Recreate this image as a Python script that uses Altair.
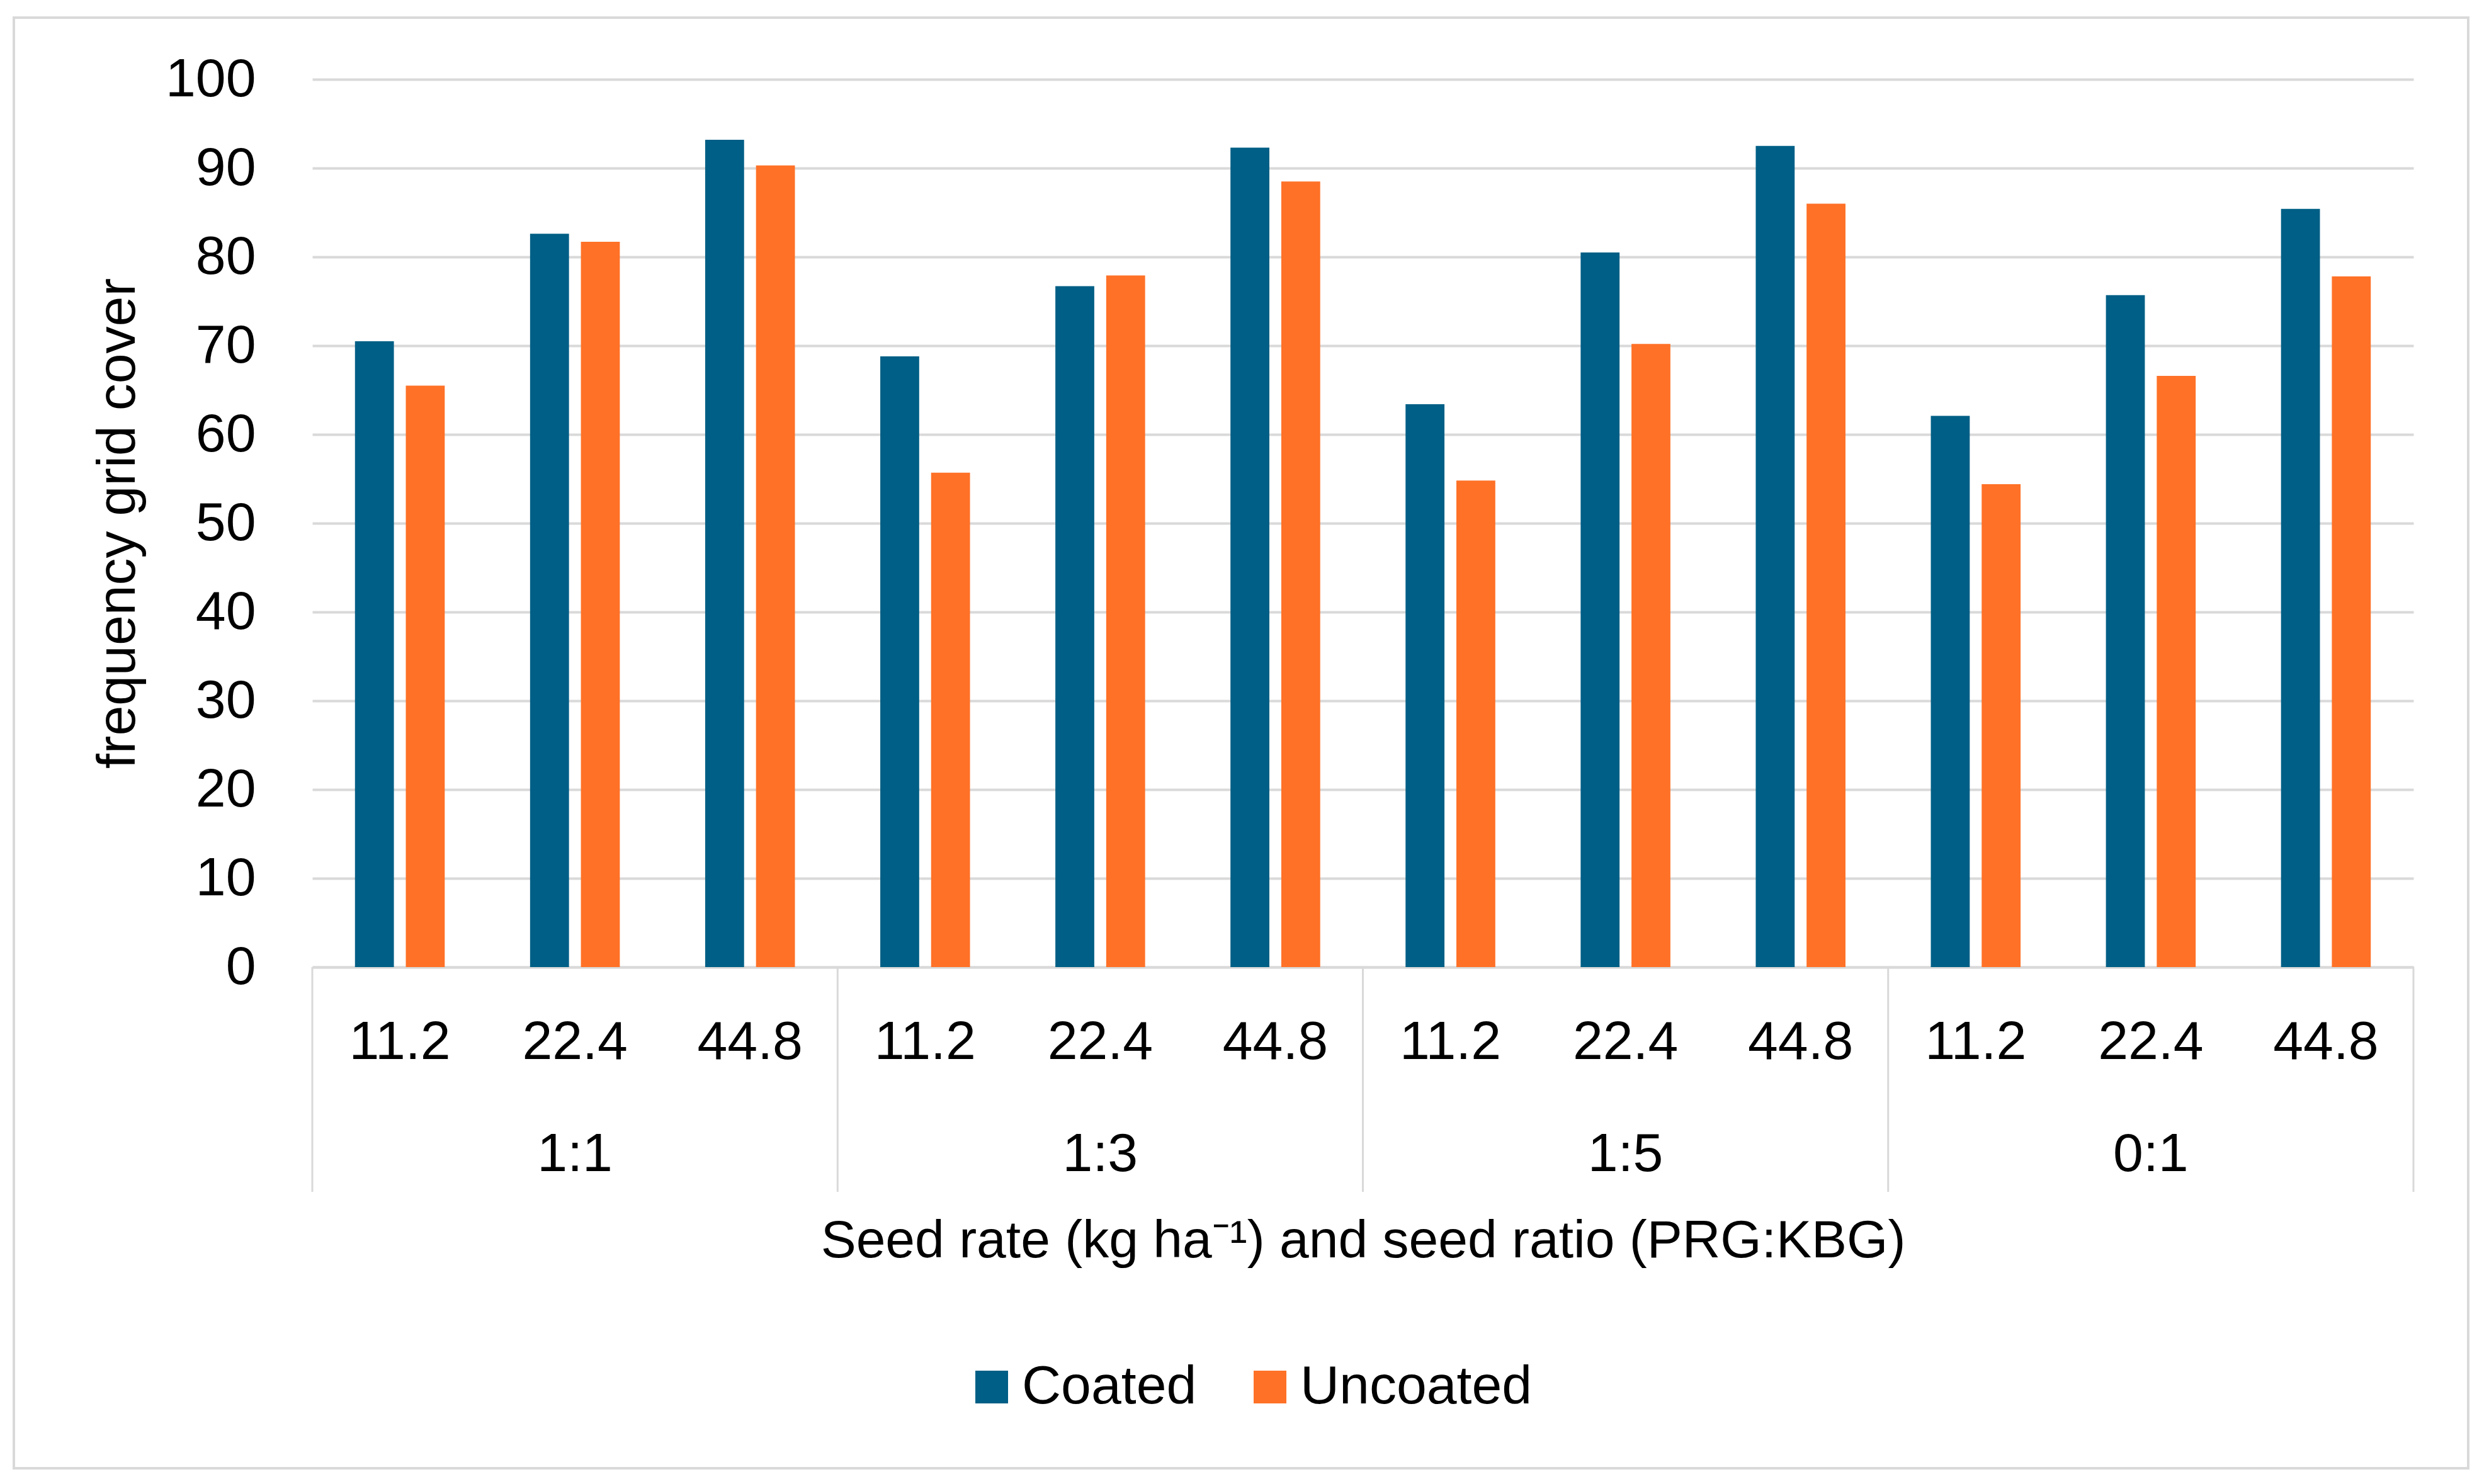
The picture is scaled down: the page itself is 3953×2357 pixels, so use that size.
import altair as alt
import pandas as pd

# ---- data ----
ratios = ["1:1", "1:3", "1:5", "0:1"]
rates = ["11.2", "22.4", "44.8"]
series = ["Coated", "Uncoated"]
coated = [70.5, 82.6, 93.2, 68.8, 76.7, 92.3, 63.4, 80.5, 92.5, 62.1, 75.7, 85.4]
uncoated = [65.5, 81.7, 90.3, 55.7, 77.9, 88.5, 54.8, 70.2, 86.0, 54.4, 66.6, 77.8]
colors = ["#005f86", "#ff7127"]

FONT = "Liberation Sans"
FS = 86
W, H = 3337, 1410

cats = [f"{r}|{s}" for r in ratios for s in rates]
rows = []
for i, c in enumerate(cats):
    rows.append({"cat": c, "series": "Coated", "value": coated[i]})
    rows.append({"cat": c, "series": "Uncoated", "value": uncoated[i]})
df = pd.DataFrame(rows)

xscale = alt.Scale(domain=cats, paddingInner=0, paddingOuter=0)

bars = alt.Chart(df).mark_bar().encode(
    x=alt.X(
        "cat:N",
        scale=xscale,
        axis=alt.Axis(
            labelExpr="split(datum.label, '|')[1]",
            labelAngle=0,
            labelFontSize=FS,
            labelFont=FONT,
            labelColor="#000000",
            labelBaseline="alphabetic",
            labelPadding=145,
            ticks=False,
            tickSize=0,
            domainColor="#d9d9d9",
            domainWidth=4,
            grid=False,
            title="Seed rate (kg ha\u207b\u00b9) and seed ratio (PRG:KBG)",
            titleFontSize=84,
            titleFont=FONT,
            titleFontWeight="normal",
            titleColor="#000000",
            titleBaseline="alphabetic",
            titleY=460,
        ),
    ),
    xOffset=alt.XOffset(
        "series:N",
        sort=series,
        scale=alt.Scale(paddingInner=0.2346, paddingOuter=0.8395),
    ),
    y=alt.Y(
        "value:Q",
        scale=alt.Scale(domain=[0, 100], nice=False),
        axis=alt.Axis(
            values=list(range(0, 101, 10)),
            labelFontSize=FS,
            labelFont=FONT,
            labelColor="#000000",
            labelPadding=90,
            labelFlush=False,
            ticks=False,
            tickSize=0,
            domain=False,
            grid=True,
            gridColor="#d9d9d9",
            gridWidth=4,
            title="frequency grid cover",
            titleFontSize=FS,
            titleFont=FONT,
            titleFontWeight="normal",
            titleColor="#000000",
            titleBaseline="alphabetic",
            titleX=-283,
        ),
    ),
    color=alt.Color(
        "series:N",
        sort=series,
        scale=alt.Scale(domain=series, range=colors),
        title=None,
        legend=alt.Legend(
            orient="none",
            legendX=1036,
            legendY=2034,
            direction="horizontal",
            symbolType="square",
            symbolSize=2704,
            symbolStrokeWidth=0,
            labelFontSize=FS,
            labelFont=FONT,
            labelColor="#000000",
            labelOffset=5,
            columnPadding=73,
            labelLimit=0,
        ),
    ),
)

# group separators of the two-level category axis
first_cats = pd.DataFrame({"cat": [f"{r}|{rates[0]}" for r in ratios]})
last_cat = pd.DataFrame({"cat": [f"{ratios[-1]}|{rates[-1]}"]})
sep_a = alt.Chart(first_cats).mark_rule(color="#d9d9d9", strokeWidth=3).encode(
    x=alt.X("cat:N", scale=xscale, bandPosition=0),
    y=alt.value(H),
    y2=alt.value(H + 357),
)
sep_b = alt.Chart(last_cat).mark_rule(color="#d9d9d9", strokeWidth=3).encode(
    x=alt.X("cat:N", scale=xscale, bandPosition=1),
    y=alt.value(H),
    y2=alt.value(H + 357),
)

# outer group labels (seed ratio)
grp = pd.DataFrame({"cat": [f"{r}|{rates[1]}" for r in ratios], "label": ratios})
grp_text = alt.Chart(grp).mark_text(
    font=FONT, fontSize=FS, color="#000000", baseline="alphabetic", align="center"
).encode(
    x=alt.X("cat:N", scale=xscale),
    y=alt.value(H + 324),
    text="label:N",
)

# chart frame
frame = alt.Chart(pd.DataFrame({"f": [0]})).mark_rect(
    fill="transparent", stroke="#d9d9d9", strokeWidth=4
).encode(
    x=alt.value(-474),
    x2=alt.value(3424),
    y=alt.value(-98),
    y2=alt.value(2206),
)

chart = (
    alt.layer(frame, bars, sep_a, sep_b, grp_text)
    .properties(
        width=W,
        height=H,
        autosize=alt.AutoSizeParams(type="none"),
        padding={"left": 488, "top": 118, "right": 100, "bottom": 800},
        background="#ffffff",
    )
    .configure(font=FONT)
    .configure_view(strokeWidth=0)
)

chart.save("out.html", embed_options={"renderer": "svg", "actions": False})
